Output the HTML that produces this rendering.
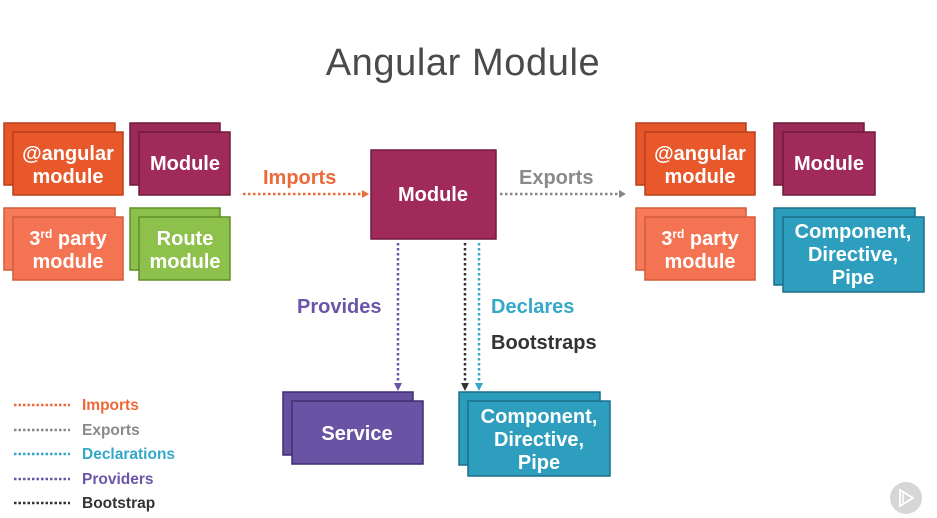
<!DOCTYPE html>
<html><head><meta charset="utf-8"><style>
html,body{margin:0;padding:0;background:#fff;}
svg{display:block;}
text{font-family:"Liberation Sans",sans-serif;font-weight:bold;}
text.t{font-weight:normal;}
</style></head><body>
<svg width="937" height="518" viewBox="0 0 937 518" xmlns="http://www.w3.org/2000/svg">
<rect width="937" height="518" fill="#fff"/>
<text class="t" x="463" y="75" text-anchor="middle" font-size="38" letter-spacing="0.6" fill="#4a4a4a">Angular Module</text>

<g stroke-width="1.5">
<rect x="4" y="123" width="111" height="62" fill="#e4552a" stroke="#b8401c"/>
<rect x="13" y="132" width="110" height="63" fill="#e8582b" stroke="#b8401c"/>
<rect x="130" y="123" width="90" height="62" fill="#9c2a58" stroke="#701a3d"/>
<rect x="139" y="132" width="91" height="63" fill="#a02b5b" stroke="#701a3d"/>
<rect x="4" y="208" width="111" height="62" fill="#f6795a" stroke="#d45a3c"/>
<rect x="13" y="217" width="110" height="63" fill="#f47352" stroke="#d45a3c"/>
<rect x="130" y="208" width="90" height="62" fill="#8cc04b" stroke="#5f8f2a"/>
<rect x="139" y="217" width="91" height="63" fill="#8dc14c" stroke="#5f8f2a"/>
<rect x="371" y="150" width="125" height="89" fill="#a02b5b" stroke="#701a3d"/>
<rect x="636" y="123" width="110" height="62" fill="#e4552a" stroke="#b8401c"/>
<rect x="645" y="132" width="110" height="63" fill="#e8582b" stroke="#b8401c"/>
<rect x="774" y="123" width="90" height="62" fill="#9c2a58" stroke="#701a3d"/>
<rect x="783" y="132" width="92" height="63" fill="#a02b5b" stroke="#701a3d"/>
<rect x="636" y="208" width="110" height="62" fill="#f6795a" stroke="#d45a3c"/>
<rect x="645" y="217" width="110" height="63" fill="#f47352" stroke="#d45a3c"/>
<rect x="774" y="208" width="141" height="77" fill="#2b9cbc" stroke="#1b6f88"/>
<rect x="783" y="217" width="141" height="75" fill="#2d9ebe" stroke="#1b6f88"/>
<rect x="283" y="392" width="130" height="63" fill="#6550a0" stroke="#3f2f72"/>
<rect x="292" y="401" width="131" height="63" fill="#6953a4" stroke="#3f2f72"/>
<rect x="459" y="392" width="141" height="73" fill="#2b9cbc" stroke="#1b6f88"/>
<rect x="468" y="401" width="142" height="75" fill="#2d9ebe" stroke="#1b6f88"/>
</g>

<g fill="#fff" font-size="20" text-anchor="middle">
<text x="68" y="160">@angular</text><text x="68" y="183">module</text>
<text x="185" y="170">Module</text>
<text x="68" y="245">3<tspan font-size="12" dy="-7">rd</tspan><tspan dy="7"> party</tspan></text><text x="68" y="268">module</text>
<text x="185" y="245">Route</text><text x="185" y="268">module</text>
<text x="433" y="201">Module</text>
<text x="700" y="160">@angular</text><text x="700" y="183">module</text>
<text x="829" y="170">Module</text>
<text x="700" y="245">3<tspan font-size="12" dy="-7">rd</tspan><tspan dy="7"> party</tspan></text><text x="700" y="268">module</text>
<text x="853" y="238">Component,</text><text x="853" y="261">Directive,</text><text x="853" y="284">Pipe</text>
<text x="357" y="440">Service</text>
<text x="539" y="423">Component,</text><text x="539" y="446">Directive,</text><text x="539" y="469">Pipe</text>
</g>

<g stroke-width="2.5" stroke-dasharray="2.5 2.5" fill="none">
<line x1="243" y1="194" x2="362" y2="194" stroke="#ec6a3a"/>
<line x1="500" y1="194" x2="619" y2="194" stroke="#888"/>
<line x1="398" y1="243" x2="398" y2="384" stroke="#6a55a8"/>
<line x1="465" y1="243" x2="465" y2="384" stroke="#333"/>
<line x1="479" y1="243" x2="479" y2="384" stroke="#35a8c8"/>
</g>
<polygon points="362,190 369,194 362,198" fill="#ec6a3a"/>
<polygon points="619,190 626,194 619,198" fill="#888"/>
<polygon points="394,383 402,383 398,391" fill="#6a55a8"/>
<polygon points="461,383 469,383 465,391" fill="#333"/>
<polygon points="475,383 483,383 479,391" fill="#35a8c8"/>

<g font-size="20">
<text x="263" y="184" fill="#ec6a3a">Imports</text>
<text x="519" y="184" fill="#8a8a8a">Exports</text>
<text x="297" y="313" fill="#6a55a8">Provides</text>
<text x="491" y="313" fill="#35a8c8">Declares</text>
<text x="491" y="349" fill="#333">Bootstraps</text>
</g>

<g stroke-width="2.5" stroke-dasharray="2.5 2" fill="none">
<line x1="14" y1="405" x2="70" y2="405" stroke="#ec6a3a"/>
<line x1="14" y1="430" x2="70" y2="430" stroke="#888"/>
<line x1="14" y1="454" x2="70" y2="454" stroke="#35a8c8"/>
<line x1="14" y1="479" x2="70" y2="479" stroke="#6a55a8"/>
<line x1="14" y1="503" x2="70" y2="503" stroke="#333"/>
</g>
<g font-size="15.5">
<text x="82" y="410" fill="#ec6a3a">Imports</text>
<text x="82" y="435" fill="#8a8a8a">Exports</text>
<text x="82" y="459" fill="#35a8c8">Declarations</text>
<text x="82" y="484" fill="#6a55a8">Providers</text>
<text x="82" y="508" fill="#333">Bootstrap</text>
</g>

<circle cx="906" cy="498" r="16" fill="#d6d6d6"/>
<polygon points="900,490 913,498 900,506" fill="none" stroke="#fff" stroke-width="1.8"/>
<line x1="903" y1="492" x2="903" y2="504" stroke="#fff" stroke-width="1.5"/>
</svg>
</body></html>
